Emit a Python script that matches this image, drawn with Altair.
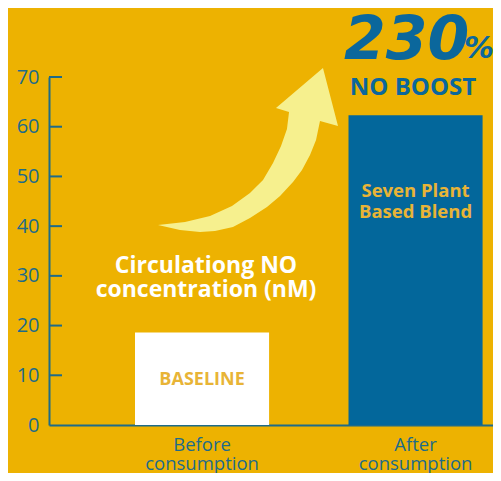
import altair as alt
import pandas as pd

# ---- data ----
categories = ["Before consumption", "After consumption"]
values = [18.6, 62.3]
bar_colors = ["#FFFFFF", "#03679B"]
tick_values = [0, 10, 20, 30, 40, 50, 60, 70]
inner_ticks = [10, 20, 30, 40, 50, 60, 70]
bar_labels = ["BASELINE", "Seven Plant Based Blend"]
bar_label_y = [8.05, 45.9]

BG = "#EDB201"
TEAL = "#1D6B8A"
BLUE = "#0B679C"
ARROW = "#F6F08E"
GOLD = "#E8B436"

bars_df = pd.DataFrame({"stage": categories, "no": values, "color": bar_colors})
ticks_df = pd.DataFrame({"no": inner_ticks})
labels_df = pd.DataFrame({"stage": categories, "no": bar_label_y,
                          "label": [[bar_labels[0]], ["Seven Plant", "Based Blend"]]})
one = pd.DataFrame({"a": [0]})

xscale = alt.Scale(paddingInner=0.372, paddingOuter=0.2258, align=0.892)
yscale = alt.Scale(domain=[0, 70], nice=False, zero=True)

x_axis = alt.Axis(labelExpr="split(datum.label, ' ')", labelAngle=0, ticks=False,
                  domainColor=TEAL, domainWidth=2, labelColor=TEAL,
                  labelFont="Open Sans", labelFontSize=18.5, labelLineHeight=19,
                  labelPadding=10, title=None)
y_axis = alt.Axis(values=tick_values, ticks=False, grid=False,
                  domainColor=TEAL, domainWidth=2, labelColor=TEAL,
                  labelFont="Open Sans", labelFontSize=20, labelPadding=10,
                  title=None)

X = alt.X("stage:N", sort=categories, scale=xscale, axis=x_axis)
Y = alt.Y("no:Q", scale=yscale, axis=y_axis)

bars = alt.Chart(bars_df).mark_bar().encode(
    x=X, y=Y, color=alt.Color("color:N", scale=None),
)

tick_rules = alt.Chart(ticks_df).mark_rule(color=TEAL, strokeWidth=2).encode(
    y=Y, x=alt.value(0), x2=alt.value(13),
)

baseline_txt = alt.Chart(labels_df.iloc[[0]]).mark_text(
    font="Open Sans", fontWeight="bold", fontSize=18, color=GOLD, baseline="alphabetic"
).encode(x=X, y=Y, text="label")

blend_txt = alt.Chart(labels_df.iloc[[1]]).mark_text(
    font="Open Sans", fontWeight="bold", fontSize=18.5, color=GOLD,
    baseline="alphabetic", lineHeight=21
).encode(x=X, y=Y, text="label")

arrow_path = ("M -1.0 0.833 L -0.7 0.8 L -0.422 0.733 L -0.178 0.622 L 0.022 0.478 "
              "L 0.167 0.333 L 0.278 0.144 L 0.367 -0.044 L 0.433 -0.233 L 0.456 -0.422 "
              "L 0.311 -0.467 L 0.833 -0.911 L 1.0 -0.267 L 0.8 -0.322 L 0.756 -0.111 "
              "L 0.689 0.056 L 0.6 0.222 L 0.5 0.356 L 0.356 0.511 L 0.211 0.633 "
              "L 0.022 0.756 L -0.167 0.856 L -0.367 0.9 L -0.533 0.911 L -0.756 0.889 Z")

arrow = alt.Chart(one).mark_point(
    shape=arrow_path, size=32400, filled=True, color=ARROW, opacity=1, strokeWidth=0
).encode(x=alt.value(199), y=alt.value(73))

circ_txt = alt.Chart(one).mark_text(
    text=["Circulationg NO", "concentration (nM)"], font="Open Sans", fontWeight="bold",
    fontSize=23, color="#FFFFFF", baseline="alphabetic", lineHeight=24, align="center"
).encode(x=alt.value(157), y=alt.value(196))

pct_big = alt.Chart(one).mark_text(
    text="230", font="DejaVu Sans", fontWeight="bold", fontStyle="italic",
    fontSize=60, color=BLUE, align="left", baseline="alphabetic"
).encode(x=alt.value(295), y=alt.value(-18))

pct_sign = alt.Chart(one).mark_text(
    text="%", font="DejaVu Sans", fontWeight="bold", fontStyle="italic",
    fontSize=30, color=BLUE, align="left", baseline="alphabetic"
).encode(x=alt.value(415), y=alt.value(-19))

boost_txt = alt.Chart(one).mark_text(
    text="NO BOOST", font="Open Sans", fontWeight="bold",
    fontSize=24, color=BLUE, align="center", baseline="alphabetic"
).encode(x=alt.value(364), y=alt.value(18))

chart = alt.layer(
    bars, tick_rules, baseline_txt, blend_txt, arrow, circ_txt, pct_big, pct_sign, boost_txt
).properties(
    width=444, height=348,
    padding={"left": 41, "top": 69, "right": 0, "bottom": 48},
    autosize=alt.AutoSizeParams(type="none"),
    background=BG,
).configure_view(stroke=None)

chart.save("out.html", embed_options={"renderer": "svg", "actions": False})
